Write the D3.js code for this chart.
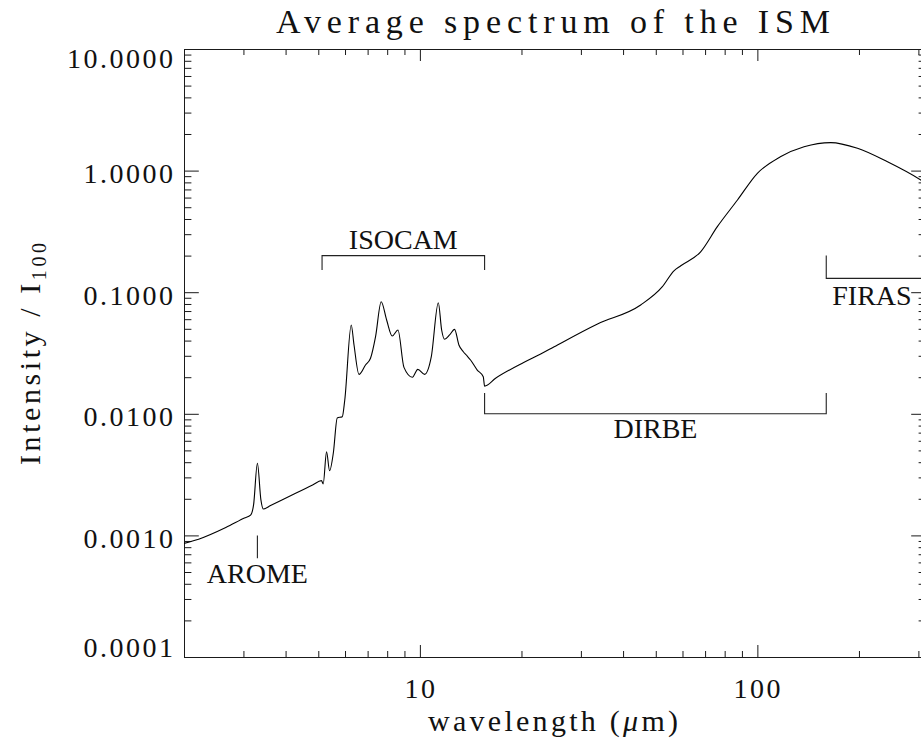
<!DOCTYPE html>
<html>
<head>
<meta charset="utf-8">
<script src="https://cdn.jsdelivr.net/npm/d3@7"></script>
<style>
  html, body { margin: 0; padding: 0; background: #fff; }
  svg { display: block; font-family: "Liberation Serif", "Times New Roman", serif; }
</style>
</head>
<body>
<svg id="chart" width="921" height="742"></svg>
<script>
// spectrum (wavelength in micron, intensity / I100)
let wavelength = [2.0, 2.21, 2.66, 3.02, 3.15, 3.215, 3.30, 3.38, 3.435, 3.61, 4.81, 5.11, 5.17, 5.29, 5.40, 5.54, 5.69, 5.89, 5.99,
    6.26, 6.38, 6.60, 6.90, 7.14, 7.39, 7.68, 7.97, 8.28, 8.61, 8.97, 9.50, 9.86, 10.33, 10.81,
    11.34, 11.60, 11.84, 12.25, 12.67, 13.05, 13.45, 13.80, 14.13, 14.79, 15.41, 15.55,
    16.76, 20.3, 22.8, 25.0, 33.6, 45.1, 52.3, 56.6, 59.3, 67.9, 76.1, 87.3, 100, 117, 137.5, 165, 198, 243, 305, 320];
let intensity = [0.00086, 0.00093, 0.00116, 0.00139, 0.00147, 0.00178, 0.00392, 0.00196, 0.00165, 0.00176, 0.00260, 0.00282, 0.00265, 0.00488, 0.00340, 0.00476, 0.00924, 0.00947, 0.0130,
    0.0537, 0.0368, 0.0211, 0.0252, 0.0286, 0.0431, 0.0835, 0.0591, 0.0436, 0.0489, 0.0241, 0.0200, 0.0232, 0.0211, 0.0295,
    0.0820, 0.0489, 0.0410, 0.0445, 0.0495, 0.0368, 0.0324, 0.0299, 0.0277, 0.0229, 0.0202, 0.0169,
    0.0196, 0.0264, 0.0310, 0.0356, 0.0548, 0.0785, 0.111, 0.150, 0.165, 0.215, 0.346, 0.573, 0.950, 1.30, 1.57, 1.70, 1.525, 1.18, 0.837, 0.77];

// axes
let xDomain = [2, 316];
let yDomain = [1e-4, 10];
let xMajor = [10, 100];
let xTickLabels = ["10", "100"];
let yMajor = [1e-4, 1e-3, 1e-2, 1e-1, 1, 10];
let yTickLabels = ["0.0001", "0.0010", "0.0100", "0.1000", "1.0000", "10.0000"];

// instrument ranges
let bracketNames = ["AROME", "ISOCAM", "DIRBE", "FIRAS"];
let bracketStart = [3.3, 5.13, 15.55, 160];
let bracketEnd = [3.3, 15.55, 160, 400];
let bracketLevel = [0.001, 0.2, 0.01, 0.13];
let bracketTip = [0.00065, 0.152, 0.0148, 0.2];

let plotLeft = 184, plotRight = 926, plotTop = 49, plotBottom = 657;
let svg = d3.select("#chart");

let x = d3.scaleLog().domain(xDomain).range([plotLeft, plotRight]);
let y = d3.scaleLog().domain(yDomain).range([plotBottom, plotTop]);

let xMinor = x.ticks().filter(d => !xMajor.some(m => Math.abs(m / d - 1) < 1e-6));
let yMinor = y.ticks().filter(d => !yMajor.some(m => Math.abs(m / d - 1) < 1e-6));

function addAxis(axisFn, scale, values, size, transform) {
    svg.append("g")
        .attr("transform", transform)
        .attr("color", "#1a1a1a")
        .call(axisFn(scale).tickValues(values).tickSize(size).tickSizeOuter(0).tickFormat(""));
}
addAxis(d3.axisBottom, x, xMajor, -12, `translate(0,${plotBottom})`);
addAxis(d3.axisBottom, x, xMinor, -6, `translate(0,${plotBottom})`);
addAxis(d3.axisTop, x, xMajor, -12, `translate(0,${plotTop})`);
addAxis(d3.axisTop, x, xMinor, -6, `translate(0,${plotTop})`);
addAxis(d3.axisLeft, y, yMajor, -14.8, `translate(${plotLeft},0)`);
addAxis(d3.axisLeft, y, yMinor, -7.4, `translate(${plotLeft},0)`);
addAxis(d3.axisRight, y, yMajor, -14.8, `translate(${plotRight},0)`);
addAxis(d3.axisRight, y, yMinor, -7.4, `translate(${plotRight},0)`);

// tick labels
svg.append("g").selectAll("text")
    .data(yMajor)
    .enter().append("text")
    .attr("x", 175.5)
    .attr("y", d => Math.min(Math.max(y(d) + 12.5, plotTop + 19), plotBottom))
    .attr("text-anchor", "end")
    .attr("font-size", 28)
    .attr("letter-spacing", 2.5)
    .attr("fill", "#111")
    .text((d, i) => yTickLabels[i]);

svg.append("g").selectAll("text")
    .data(xMajor)
    .enter().append("text")
    .attr("x", d => x(d) + 1)
    .attr("y", 698)
    .attr("text-anchor", "middle")
    .attr("font-size", 28)
    .attr("letter-spacing", 2.5)
    .attr("fill", "#111")
    .text((d, i) => xTickLabels[i]);

// spectrum
let line = d3.line()
    .x(d => x(d[0]))
    .y(d => y(d[1]))
    .curve(d3.curveMonotoneX);

svg.append("path")
    .datum(wavelength.map((w, i) => [w, intensity[i]]))
    .attr("d", line)
    .attr("fill", "none")
    .attr("stroke", "#000")
    .attr("stroke-width", 1.1);

// instrument brackets
let labelDy = [48, -7, 24, 27];
let labelAnchor = ["middle", "middle", "middle", "start"];
let labelDx = [0, 0, 0, 6];

let br = svg.append("g");
bracketNames.forEach(function (name, i) {
    let x0 = x(bracketStart[i]), x1 = x(bracketEnd[i]);
    let yl = y(bracketLevel[i]), yt = y(bracketTip[i]);
    br.append("path")
        .attr("d", `M${x0},${yt}V${yl}H${x1}V${yt}`)
        .attr("fill", "none")
        .attr("stroke", "#222")
        .attr("stroke-width", 1.1);
    br.append("text")
        .attr("x", labelAnchor[i] === "start" ? x0 + labelDx[i] : (x0 + x1) / 2)
        .attr("y", yl + labelDy[i])
        .attr("text-anchor", labelAnchor[i])
        .attr("font-size", 28)
        .attr("fill", "#111")
        .text(name);
});

// titles
svg.append("text")
    .attr("x", 553)
    .attr("y", 33)
    .attr("text-anchor", "middle")
    .attr("font-size", 34)
    .attr("textLength", 554)
    .attr("lengthAdjust", "spacing")
    .attr("fill", "#111")
    .text("Average spectrum of the ISM");

let xLabel = svg.append("text")
    .attr("x", 553)
    .attr("y", 731)
    .attr("text-anchor", "middle")
    .attr("font-size", 30)
    .attr("textLength", 250)
    .attr("lengthAdjust", "spacing")
    .attr("fill", "#111");
xLabel.append("tspan").text("wavelength (");
xLabel.append("tspan").attr("font-style", "italic").text("\u03bc");
xLabel.append("tspan").text("m)");

let yLabel = svg.append("text")
    .attr("transform", "translate(40,354) rotate(-90)")
    .attr("text-anchor", "middle")
    .attr("font-size", 30)
    .attr("textLength", 222)
    .attr("lengthAdjust", "spacing")
    .attr("fill", "#111");
yLabel.append("tspan").text("Intensity / I");
yLabel.append("tspan").attr("font-size", 20).attr("dy", 6).text("100");
</script>
</body>
</html>
